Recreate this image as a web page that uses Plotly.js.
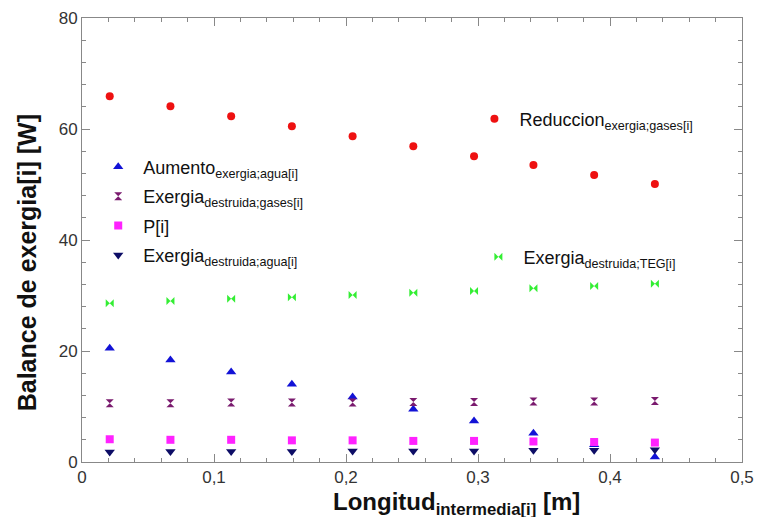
<!DOCTYPE html>
<html>
<head>
<meta charset="utf-8">
<script src="https://cdn.plot.ly/plotly-3.0.1.min.js"></script>
<style>html,body{margin:0;padding:0;background:#fff}#chart{width:760px;height:517px}</style>
</head>
<body>
<div id="chart"></div>
<script>
const longitud = [0.021, 0.067, 0.113, 0.159, 0.205, 0.251, 0.297, 0.342, 0.388, 0.434];
const reduccionGases = [65.9, 64.1, 62.3, 60.5, 58.7, 56.9, 55.1, 53.5, 51.7, 50.1];
const destruidaTEG = [28.6, 29.0, 29.4, 29.7, 30.1, 30.5, 30.8, 31.3, 31.7, 32.1];
const aumentoAgua = [20.5, 18.4, 16.2, 14.0, 11.7, 9.5, 7.4, 5.2, 3.1, 0.9];
const destruidaGases = [10.6, 10.6, 10.7, 10.7, 10.7, 10.8, 10.8, 10.9, 10.9, 11.0];
const potencia = [4.1, 4.0, 4.0, 3.9, 3.9, 3.8, 3.8, 3.7, 3.6, 3.5];
const destruidaAgua = [1.8, 1.9, 1.9, 1.9, 2.0, 2.0, 2.0, 2.1, 2.1, 2.2];
const xTicks = [0, 0.1, 0.2, 0.3, 0.4, 0.5];
const xTickText = ['0', '0,1', '0,2', '0,3', '0,4', '0,5'];
const yTicks = [0, 20, 40, 60, 80];
const xTitle = '<b>Longitud<sub>intermedia[i]</sub> [m]</b>';
const yTitle = '<b>Balance de exergia[i] [W]</b>';

const mk = (y, name, symbol, color, size, legend, group) => ({
  x: longitud, y: y, name: name, type: 'scatter', mode: 'markers',
  marker: {symbol: symbol, color: color, size: size, line: {width: 0}},
  legend: legend, legendgroup: group, cliponaxis: false
});

const data = [
  mk(reduccionGases, 'Reduccion<sub>exergia;gases[i]</sub>', 'circle', '#ee1111', 8, 'legend', 'g1'),
  mk(destruidaTEG, 'Exergia<sub>destruida;TEG[i]</sub>', 'bowtie', '#33ee33', 8, 'legend2', 'g2'),
  mk(aumentoAgua, 'Aumento<sub>exergia;agua[i]</sub>', 'triangle-up', '#1212d6', 9, 'legend3', 'g3'),
  mk(destruidaGases, 'Exergia<sub>destruida;gases[i]</sub>', 'hourglass', '#7a1a6e', 8, 'legend3', 'g4'),
  mk(potencia, 'P[i]', 'square', '#ff22ff', 8, 'legend3', 'g5'),
  mk(destruidaAgua, 'Exergia<sub>destruida;agua[i]</sub>', 'triangle-down', '#0d0d66', 9, 'legend3', 'g6')
];

const FONT = 'Liberation Sans, Arial, sans-serif';
const legFont = {family: FONT, size: 18, color: '#111'};
const legBase = {font: legFont, bgcolor: 'rgba(0,0,0,0)', borderwidth: 0, xanchor: 'left', yanchor: 'top', itemclick: false, tracegroupgap: 3, itemwidth: 40};

const layout = {
  width: 760, height: 517,
  margin: {l: 82, r: 18, t: 18, b: 55},
  paper_bgcolor: '#fff', plot_bgcolor: '#fff',
  separators: ',.',
  font: {family: FONT, color: '#333'},
  showlegend: true,
  legend: Object.assign({}, legBase, {x: 0.587, y: 0.814}),
  legend2: Object.assign({}, legBase, {x: 0.593, y: 0.503}),
  legend3: Object.assign({}, legBase, {x: 0.017, y: 0.706}),
  xaxis: {
    range: [0, 0.5], tickvals: xTicks, ticktext: xTickText,
    ticks: 'inside', ticklen: 8, tickcolor: '#888', tickwidth: 1,
    minor: {dtick: 0.02, ticks: 'inside', ticklen: 4, tickcolor: '#888'},
    showline: true, linecolor: '#888', linewidth: 1, mirror: 'ticks',
    showgrid: false, zeroline: false,
    tickfont: {size: 17, color: '#333'}
  },
  yaxis: {
    range: [0, 80], tickvals: yTicks,
    ticks: 'inside', ticklen: 8, tickcolor: '#888', tickwidth: 1,
    minor: {dtick: 4, ticks: 'inside', ticklen: 4, tickcolor: '#888'},
    showline: true, linecolor: '#888', linewidth: 1, mirror: 'ticks',
    showgrid: false, zeroline: false,
    tickfont: {size: 17, color: '#333'}
  },
  annotations: [
    {text: xTitle, xref: 'paper', yref: 'paper', x: 0.568, y: 0, xanchor: 'center', yanchor: 'top', yshift: -24, showarrow: false, font: {family: FONT, size: 24, color: '#111'}},
    {text: yTitle, xref: 'paper', yref: 'paper', x: -0.083, y: 0.448, xanchor: 'center', yanchor: 'middle', textangle: -90, showarrow: false, font: {family: FONT, size: 25, color: '#111'}}
  ]
};

Plotly.newPlot('chart', data, layout, {staticPlot: true, displayModeBar: false});
</script>
</body>
</html>
